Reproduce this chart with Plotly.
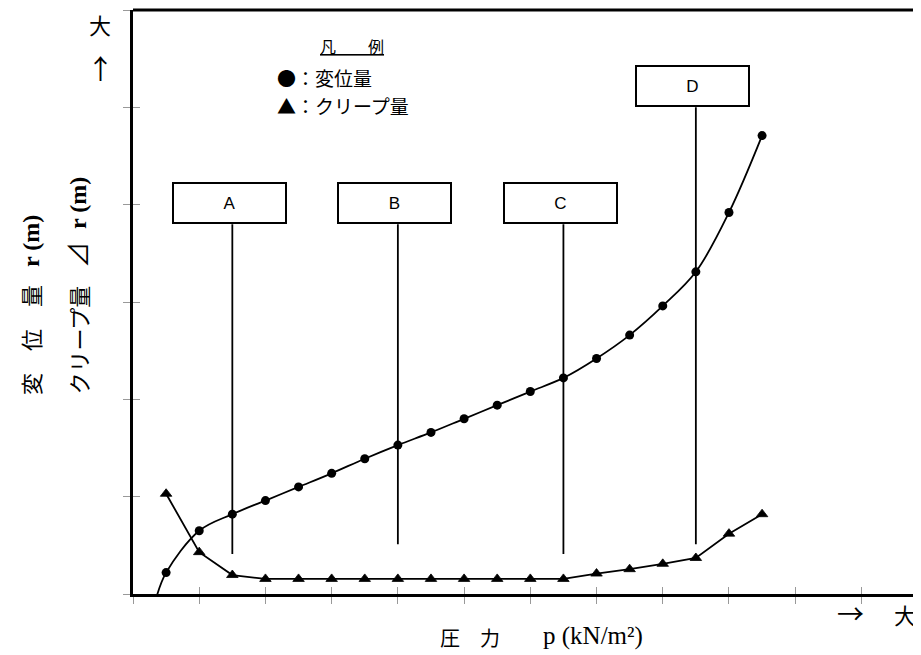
import plotly.graph_objects as go

# ---- data ----
pressure = [0.5, 1.0, 1.5, 2.0, 2.5, 3.0, 3.5, 4.0, 4.5, 5.0,
            5.5, 6.0, 6.5, 7.0, 7.5, 8.0, 8.5, 9.0, 9.5]
displacement = [0.22, 0.65, 0.82, 0.96, 1.10, 1.24, 1.39, 1.53, 1.66, 1.80,
                1.94, 2.08, 2.22, 2.42, 2.66, 2.96, 3.31, 3.92, 4.71]
creep = [1.03, 0.43, 0.195, 0.155, 0.155, 0.155, 0.155, 0.155, 0.155, 0.155,
         0.155, 0.155, 0.155, 0.21, 0.255, 0.31, 0.37, 0.62, 0.82]
# start of the displacement curve (line only, no marker)
curve_start_x = 0.36
curve_start_y = -0.02

stage_labels = ["A", "B", "C", "D"]
stage_x = [1.5, 4.0, 6.5, 8.5]
stage_line_bottom = [0.41, 0.51, 0.41, 0.51]
stage_box_bottom = [3.80, 3.80, 3.80, 5.00]

x_ticks = list(range(0, 12))
y_ticks = list(range(0, 7))

JP = "Noto Sans CJK JP"
SERIF = "Liberation Serif"
BLACK = "black"

fig = go.Figure()

# displacement curve (smooth line) and its markers
fig.add_trace(go.Scatter(
    x=[curve_start_x] + pressure, y=[curve_start_y] + displacement,
    mode="lines", line=dict(color=BLACK, width=1.8, shape="spline"),
    showlegend=False, hoverinfo="skip"))
fig.add_trace(go.Scatter(
    x=pressure, y=displacement, mode="markers",
    marker=dict(symbol="circle", color=BLACK, size=9, opacity=1,
                line=dict(color=BLACK, width=0)),
    showlegend=False))

fig.add_trace(go.Scatter(
    x=pressure, y=creep, mode="lines+markers",
    line=dict(color=BLACK, width=1.8),
    marker=dict(symbol="triangle-up", color=BLACK, size=10, opacity=1,
                line=dict(color=BLACK, width=0.8)),
    showlegend=False))

# dummy trace for overlay axes (inside tick halves)
fig.add_trace(go.Scatter(x=[None], y=[None], xaxis="x2", yaxis="y2",
                         showlegend=False, hoverinfo="skip"))

shapes = []
annotations = []
for lab, sx, lb, bb in zip(stage_labels, stage_x, stage_line_bottom, stage_box_bottom):
    shapes.append(dict(type="line", xref="x", yref="y", x0=sx, x1=sx, y0=lb, y1=bb,
                       line=dict(color=BLACK, width=1.8)))
    annotations.append(dict(x=sx - 0.05, y=bb, xref="x", yref="y", xanchor="center",
                            yanchor="bottom", text=lab, showarrow=False,
                            width=111, height=38, borderpad=0, borderwidth=2,
                            bordercolor=BLACK, bgcolor="white",
                            font=dict(family="Liberation Sans", size=17, color=BLACK)))

# top frame line
shapes.append(dict(type="line", xref="paper", yref="paper", x0=0, x1=1, y0=1, y1=1,
                   line=dict(color=BLACK, width=3)))

# legend block
annotations += [
    dict(x=3.30, y=5.63, xref="x", yref="y", text="<u>凡　　例</u>", showarrow=False,
         xanchor="center", yanchor="middle", font=dict(family=JP, size=16, color=BLACK)),
    dict(x=2.14, y=5.31, xref="x", yref="y", text="●：変位量", showarrow=False,
         xanchor="left", yanchor="middle", font=dict(family=JP, size=19, color=BLACK)),
    dict(x=2.14, y=5.02, xref="x", yref="y", text="▲：クリープ量", showarrow=False,
         xanchor="left", yanchor="middle", font=dict(family=JP, size=19, color=BLACK)),
]


def px_x(p):
    return (p - 133) / 788.0


def px_y(p):
    return (594 - p) / 584.0


def rot(text, xc, y, anchor, family, size):
    return dict(x=px_x(xc), y=px_y(y), xref="paper", yref="paper", textangle=-90,
                text=text, showarrow=False, xanchor="center", yanchor=anchor,
                opacity=0.999, font=dict(family=family, size=size, color=BLACK))


# vertical axis titles (rotated)
annotations += [
    rot("変　位　量", 30, 397, "bottom", JP, 22),
    rot("<b>r (m)</b>", 31, 241, "middle", SERIF, 24),
    rot("クリープ量", 77, 397, "bottom", JP, 22),
    rot("⊿", 77, 255, "middle", JP, 26),
    rot("<b>r (m)</b>", 78, 203, "middle", SERIF, 24),
]

# arrows and horizontal title
annotations += [
    dict(x=px_x(100), y=px_y(24), xref="paper", yref="paper", text="大", showarrow=False,
         xanchor="center", yanchor="middle", font=dict(family=JP, size=22, color=BLACK)),
    dict(x=px_x(100), y=px_y(68), xref="paper", yref="paper", text="↑", showarrow=False,
         xanchor="center", yanchor="middle", font=dict(family=JP, size=27, color=BLACK)),
    dict(x=px_x(850), y=px_y(612), xref="paper", yref="paper", text="→", showarrow=False,
         xanchor="center", yanchor="middle", font=dict(family=JP, size=27, color=BLACK)),
    dict(x=px_x(905), y=px_y(614), xref="paper", yref="paper", text="大", showarrow=False,
         xanchor="center", yanchor="middle", font=dict(family=JP, size=22, color=BLACK)),
    dict(x=px_x(438), y=px_y(637), xref="paper", yref="paper", text="圧　力",
         showarrow=False, xanchor="left", yanchor="middle",
         font=dict(family=JP, size=20, color=BLACK)),
    dict(x=px_x(541), y=px_y(636), xref="paper", yref="paper", text="p (kN/m²)",
         showarrow=False, xanchor="left", yanchor="middle",
         font=dict(family=SERIF, size=25, color=BLACK)),
]

axis_common = dict(showgrid=False, zeroline=False, showticklabels=False)
# the page body has an 8px margin: shift the figure back so the plot area
# lands at x=133..921, y=10..594 of the window
fig.update_layout(
    width=913, height=647,
    margin=dict(l=125, r=0, t=2, b=61),
    plot_bgcolor="white", paper_bgcolor="white",
    xaxis=dict(range=[0, 11.9], tickvals=x_ticks, ticks="outside", ticklen=7,
               tickcolor="#999999", tickwidth=1, showline=True, linecolor=BLACK,
               linewidth=3, **axis_common),
    yaxis=dict(range=[0, 6], tickvals=y_ticks, ticks="outside", ticklen=7,
               tickcolor="#999999", tickwidth=1, showline=True, linecolor=BLACK,
               linewidth=3, **axis_common),
    xaxis2=dict(range=[0, 11.9], overlaying="x", side="bottom", tickvals=x_ticks,
                ticks="inside", ticklen=7, tickcolor="#999999", tickwidth=1,
                showline=False, **axis_common),
    yaxis2=dict(range=[0, 6], overlaying="y", side="left", tickvals=y_ticks,
                ticks="inside", ticklen=7, tickcolor="#999999", tickwidth=1,
                showline=False, **axis_common),
    shapes=shapes, annotations=annotations,
)

fig.write_html("out.html")
